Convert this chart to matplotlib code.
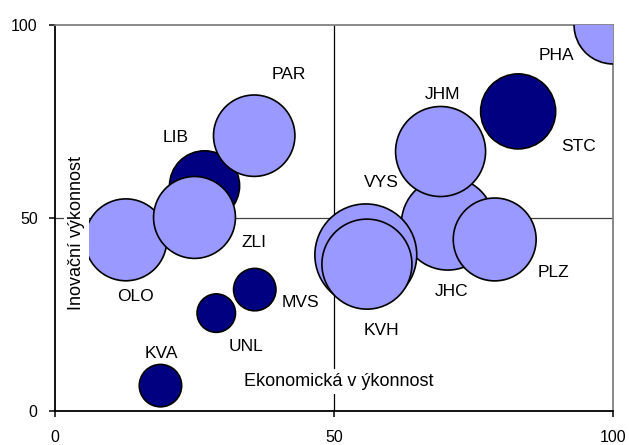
import matplotlib
matplotlib.use("Agg")
import matplotlib.pyplot as plt
import numpy as np

plt.rcParams['font.family'] = ['Liberation Sans', 'DejaVu Sans']

# regiony - tmave (skupina 1) nejdriv, svetle (skupina 2) nakonec, kvuli prekryvu
regiony = ['STC', 'LIB', 'MVS', 'UNL', 'KVA',
           'OLO', 'ZLI', 'PAR', 'JHC', 'VYS', 'KVH', 'JHM', 'PLZ', 'PHA']
skupina = [1, 1, 1, 1, 1,
           2, 2, 2, 2, 2, 2, 2, 2, 2]
ekonomicka = [83.0, 26.8, 35.8, 28.9, 18.9,
              12.7, 25.0, 35.7, 70.4, 55.7, 55.9, 69.1, 78.8, 100.0]
inovacni = [77.6, 58.3, 31.4, 25.3, 6.5,
            44.3, 50.1, 71.3, 48.5, 40.4, 38.0, 67.2, 44.4, 100.0]
velikost = [14.1, 12.3, 4.5, 3.7, 4.5,
            16.8, 16.8, 16.6, 21.6, 26.0, 20.3, 20.3, 17.2, 15.2]

# posun popisku od stredu bubliny (pixely, nahoru kladne)
posun = {
    'PHA': (-57, -31), 'STC': (60, -35), 'JHM': (2, 57), 'JHC': (4, -68),
    'PLZ': (59, -33), 'VYS': (16, 72), 'KVH': (15, -66), 'PAR': (35, 61),
    'LIB': (-29, 48), 'ZLI': (60, -25), 'OLO': (10, -57), 'MVS': (46, -13),
    'UNL': (30, -33), 'KVA': (1, 32),
}

barvy = {1: '#000080', 2: '#9999FF'}

fig = plt.figure(figsize=(6.29, 4.45), dpi=100)
ax = fig.add_axes([55 / 629, 1 - 410.7 / 445, 558 / 629, 385.7 / 445])

x = np.array(ekonomicka)
y = np.array(inovacni)
v = np.array(velikost)
g = np.array(skupina)
for sk in (1, 2):
    m = g == sk
    ax.scatter(x[m], y[m], s=v[m] * 207, color=barvy[sk],
               edgecolors='black', linewidths=1.2, zorder=3)

for r, xi, yi in zip(regiony, ekonomicka, inovacni):
    dx, dy = posun[r]
    ax.annotate(r, (xi, yi), xytext=(dx, dy), textcoords='offset pixels',
                ha='center', va='center', fontsize=12.5, zorder=5,
                annotation_clip=False)

# stredove cary
ax.axvline(50, color='black', lw=0.9, zorder=1)
ax.axhline(50, color='#404040', lw=0.9, zorder=1)

ax.set_xlim(0, 100)
ax.set_ylim(0, 100)
ax.set_xticks([0, 50, 100])
ax.set_yticks([0, 50, 100])
ax.tick_params(axis='both', direction='out', length=4, width=1.1,
               labelsize=11.5, colors='black')
ax.tick_params(axis='x', pad=10)
ax.tick_params(axis='y', pad=8.5)

for s in ('left', 'bottom'):
    ax.spines[s].set_color('black')
    ax.spines[s].set_linewidth(1.3)
for s in ('top', 'right'):
    ax.spines[s].set_color('#808080')
    ax.spines[s].set_linewidth(1.3)

ax.text(50.9, 7.6, 'Ekonomická v ýkonnost', ha='center', va='center',
        fontsize=13, zorder=6,
        bbox=dict(facecolor='white', edgecolor='none', pad=3))
ax.text(3.8, 46.1, 'Inovační výkonnost', ha='center', va='center',
        rotation=90, fontsize=13, zorder=6,
        bbox=dict(facecolor='white', edgecolor='none', pad=3))

fig.savefig('out.png', dpi=100)
